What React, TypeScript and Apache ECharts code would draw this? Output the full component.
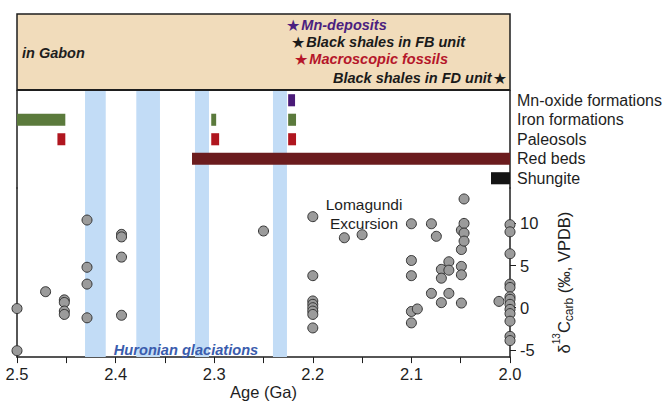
import React, { useEffect, useRef } from "react";
import * as echarts from "echarts";

// ---------- data ----------
const rowNames = ["Mn-oxide formations", "Iron formations", "Paleosols", "Red beds", "Shungite"];

// [startAge, endAge] in Ga
const mnOxide = [[2.225, 2.218]];
const ironFormations = [[2.5, 2.451], [2.303, 2.298], [2.225, 2.217]];
const paleosols = [[2.459, 2.451], [2.303, 2.295], [2.225, 2.217]];
const redBeds = [[2.3225, 2.0]];
const shungite = [[2.0193, 2.0]];

// glaciation intervals [older, younger] in Ga
const glaciations = [[2.431, 2.41], [2.379, 2.355], [2.3195, 2.3053], [2.2404, 2.2262]];

// δ13C carb points [age Ga, ‰]
const carbAges = [
  2.5, 2.5, 2.471, 2.452, 2.452, 2.452, 2.452,
  2.429, 2.429, 2.429, 2.429,
  2.394, 2.394, 2.394, 2.394,
  2.25,
  2.2, 2.2, 2.2, 2.2, 2.2, 2.2, 2.2, 2.2,
  2.168, 2.15,
  2.1, 2.1, 2.1, 2.1, 2.1, 2.094,
  2.0797, 2.0797, 2.0747,
  2.0696, 2.0696, 2.0696,
  2.062, 2.062, 2.062,
  2.0493, 2.0493, 2.0493, 2.0493, 2.0493,
  2.0466, 2.0466, 2.0466, 2.0466,
  2.0112,
  2.0, 2.0, 2.0, 2.0, 2.0, 2.0, 2.0, 2.0, 2.0, 2.0, 2.0, 2.0, 2.0,
];
const carbValues = [
  -0.1, -5.1, 1.9, 0.93, 0.62, -0.4, -0.8,
  10.4, 4.8, 2.8, -1.2,
  8.7, 8.4, 6.0, -0.9,
  9.1,
  10.8, 3.8, 0.8, 0.4, 0.0, -0.4, -0.8, -2.4,
  8.3, 8.66,
  9.96, 5.6, 3.8, -0.45, -1.8, -0.15,
  9.96, 1.7, 8.47,
  4.55, 3.5, 0.6,
  5.45, 4.45, 1.7,
  0.55, 4.9, 3.9, 6.9, 9.2,
  10.0, 8.85, 7.9, 12.9,
  0.75,
  9.85, 9.0, 6.4, 2.8, 2.4, 1.3, 1.0, 0.4, -0.2, -0.7, -1.6, -3.4, -3.9,
];

const yTicks = [-5, 0, 5, 10];

// ---------- styling ----------
const FONT = "'Liberation Sans', Arial, 'DejaVu Sans', sans-serif";
const AX = "#1e1e1e";
const L = 17;
const R = 510;
const W = R - L;

const starRich = (color: string) => ({
  s: { fontFamily: "'DejaVu Sans'", fontSize: 16, fill: color, padding: [0, 1, 0, 0] },
  t: { fontFamily: FONT, fontSize: 14.5, fontWeight: "bold", fontStyle: "italic", fill: color },
  e: { fontFamily: "'DejaVu Sans'", fontSize: 16, fill: color, padding: [0, 0, 0, 1] },
});

function App() {
  const ref = useRef<HTMLDivElement>(null);
  useEffect(() => {
    document.body.style.margin = "0";
    const chart = echarts.init(ref.current!, null, { renderer: "svg" });

    const barSeries = (data: number[][], row: number, color: string) => ({
      type: "custom",
      xAxisIndex: 0,
      yAxisIndex: 0,
      z: 3,
      encode: { x: [0, 1], y: 2 },
      data: data.map((d) => [d[0], d[1], row]),
      renderItem: (_p: any, api: any) => {
        const s = api.coord([api.value(0), api.value(2)]);
        const e = api.coord([api.value(1), api.value(2)]);
        const h = api.size([0, 1])[1] * 0.62;
        return {
          type: "rect",
          shape: { x: Math.min(s[0], e[0]), y: s[1] - h / 2, width: Math.abs(e[0] - s[0]), height: h },
          style: { fill: color },
        };
      },
    });

    const glacArea = {
      silent: true,
      z: 1,
      itemStyle: { color: "#c2dcf6" },
      label: { show: false },
      data: glaciations.map((g) => [{ xAxis: g[0] }, { xAxis: g[1] }]),
    };

    const xBase = { type: "value", min: 2.0, max: 2.5, inverse: true };

    chart.setOption({
      animation: false,
      textStyle: { fontFamily: FONT },
      grid: [
        { left: L, width: W, top: 90.5, height: 97.5, containLabel: false },
        { left: L, width: W, top: 188, height: 174, containLabel: false },
      ],
      xAxis: [
        { ...xBase, gridIndex: 0, show: false },
        {
          ...xBase,
          gridIndex: 1,
          interval: 0.05,
          axisLine: { show: true, onZero: false, lineStyle: { color: AX, width: 1.5 } },
          axisTick: { show: true, inside: false, length: 6, lineStyle: { color: AX, width: 1 } },
          axisLabel: {
            show: true,
            color: AX,
            fontSize: 16.5,
            margin: 8,
            showMinLabel: true,
            showMaxLabel: true,
            formatter: (v: number) => (Math.abs(v * 10 - Math.round(v * 10)) < 1e-6 ? v.toFixed(1) : ""),
          },
          splitLine: { show: false },
          name: "Age (Ga)",
          nameLocation: "middle",
          nameGap: 24,
          nameTextStyle: { color: AX, fontSize: 16.5 },
        },
      ],
      yAxis: [
        {
          type: "category",
          gridIndex: 0,
          position: "right",
          inverse: true,
          data: rowNames,
          axisLine: { show: true, lineStyle: { color: AX, width: 1.5 } },
          axisTick: { show: false },
          axisLabel: { color: AX, fontSize: 16, margin: 7, interval: 0 },
          splitLine: { show: false },
        },
        {
          type: "value",
          gridIndex: 0,
          position: "left",
          min: 0,
          max: 1,
          axisLine: { show: true, lineStyle: { color: AX, width: 1.5 } },
          axisTick: { show: false },
          axisLabel: { show: false },
          splitLine: { show: false },
        },
        {
          type: "value",
          gridIndex: 1,
          position: "right",
          min: -5.86,
          max: 14.2,
          axisLine: { show: true, onZero: false, lineStyle: { color: AX, width: 1.5 } },
          axisTick: { show: true, length: 6, customValues: yTicks, lineStyle: { color: AX } },
          axisLabel: { show: true, color: AX, fontSize: 16.5, margin: 10, customValues: yTicks },
          splitLine: { show: false },
          name: "{d|δ}{sup|13}{c|C}{sub|carb}{n| (‰, VPDB)}",
          nameLocation: "middle",
          nameRotate: 90,
          nameGap: 40,
          nameTextStyle: {
            color: AX,
            padding: [0, 20, 0, 0],
            rich: {
              d: { fontSize: 16.5, color: AX, lineHeight: 22, verticalAlign: "bottom" },
              sup: { fontSize: 10, color: AX, lineHeight: 22, verticalAlign: "top", padding: [1, 0, 0, 0] },
              c: { fontSize: 16.5, color: AX, lineHeight: 22, verticalAlign: "bottom" },
              sub: { fontSize: 12, color: AX, lineHeight: 22, verticalAlign: "bottom", padding: [0, 0, -3, 0] },
              n: { fontSize: 16.5, color: AX, lineHeight: 22, verticalAlign: "bottom" },
            },
          },
        },
        {
          type: "value",
          gridIndex: 1,
          position: "left",
          min: 0,
          max: 1,
          axisLine: { show: true, lineStyle: { color: AX, width: 1.5 } },
          axisTick: { show: false },
          axisLabel: { show: false },
          splitLine: { show: false },
        },
      ],
      series: [
        { ...barSeries(mnOxide, 0, "#4a1a78"), markArea: glacArea },
        barSeries(ironFormations, 1, "#5b7a3c"),
        barSeries(paleosols, 2, "#b0161f"),
        barSeries(redBeds, 3, "#6b1c1e"),
        barSeries(shungite, 4, "#141414"),
        {
          type: "scatter",
          xAxisIndex: 1,
          yAxisIndex: 2,
          z: 3,
          symbol: "circle",
          symbolSize: 10,
          itemStyle: { color: "#9b9b9b", borderColor: "#333", borderWidth: 1, opacity: 1 },
          data: carbAges.map((a, i) => [a, carbValues[i]]),
          markArea: glacArea,
        },
      ],
      graphic: [
        {
          type: "rect",
          z: 0,
          shape: { x: L, y: 14, width: W, height: 76 },
          style: { fill: "#f1dcbb", stroke: AX, lineWidth: 1.5 },
        },
        {
          type: "line",
          z: 5,
          shape: { x1: L, y1: 90, x2: R, y2: 90 },
          style: { stroke: AX, lineWidth: 2 },
        },
        {
          type: "text",
          z: 5,
          x: 22,
          y: 53,
          style: { text: "in Gabon", fill: "#1e1e1e", font: `italic bold 14.5px ${FONT}`, verticalAlign: "middle" },
        },
        {
          type: "text",
          z: 5,
          x: 286,
          y: 25,
          style: { text: "{s|★}{t|Mn-deposits}", rich: starRich("#4b1f80"), verticalAlign: "middle" },
        },
        {
          type: "text",
          z: 5,
          x: 291,
          y: 42,
          style: { text: "{s|★}{t|Black shales in FB unit}", rich: starRich("#1a1a1a"), verticalAlign: "middle" },
        },
        {
          type: "text",
          z: 5,
          x: 294,
          y: 59,
          style: { text: "{s|★}{t|Macroscopic fossils}", rich: starRich("#b5162a"), verticalAlign: "middle" },
        },
        {
          type: "text",
          z: 5,
          x: 507,
          y: 78,
          style: { text: "{t|Black shales in FD unit}{e|★}", rich: starRich("#1a1a1a"), align: "right", verticalAlign: "middle" },
        },
        {
          type: "text",
          z: 5,
          x: 364,
          y: 195,
          style: { text: "Lomagundi\nExcursion", fill: "#1e1e1e", font: `15.5px ${FONT}`, align: "center", lineHeight: 19 },
        },
        {
          type: "text",
          z: 5,
          x: 186,
          y: 350,
          style: { text: "Huronian glaciations", fill: "#3a5cad", font: `italic bold 14.6px ${FONT}`, align: "center", verticalAlign: "middle" },
        },
      ],
    });
    return () => chart.dispose();
  }, []);
  return <div ref={ref} style={{ width: 668, height: 401 }} />;
}

export default App;
